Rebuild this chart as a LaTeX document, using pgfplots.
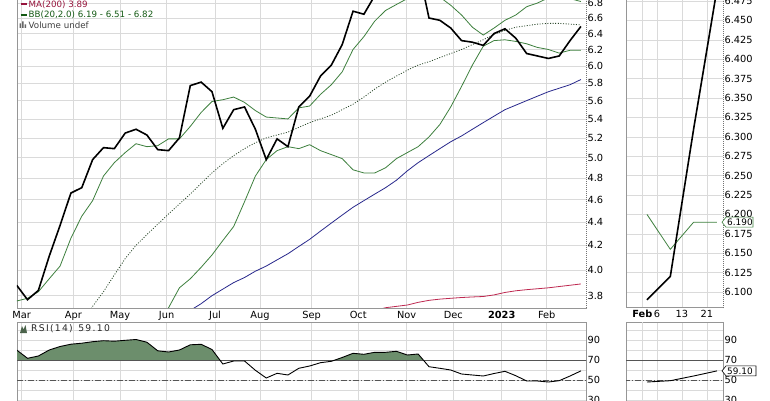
\documentclass[border=0pt]{standalone}
\usepackage{fontspec}
\setmainfont{DejaVu Sans}
\usepackage{pgfplots}
\usepackage{pgfplotstable}
\pgfplotsset{compat=1.18}

\definecolor{bbgreen}{RGB}{62,128,62}
\definecolor{bbtext}{RGB}{20,90,20}
\definecolor{midgreen}{RGB}{40,70,40}
\definecolor{maBlue}{RGB}{40,40,140}
\definecolor{maRed}{RGB}{190,40,80}
\definecolor{maRedText}{RGB}{150,20,60}
\definecolor{rsifill}{RGB}{108,142,108}
\definecolor{gridc}{RGB}{218,218,218}
\definecolor{framec}{RGB}{150,150,150}
\definecolor{refline}{RGB}{85,85,85}

\pgfplotstableread{
w price up mid low maA maB rsi
0 3.88 3.76 nan nan nan nan 80
1 3.77 3.78 nan nan nan nan 71.7
2 3.84 3.83 nan nan nan nan 74
3 4.11 3.93 nan nan nan nan 80
4 4.37 4.03 nan nan nan nan 83.5
5 4.66 4.26 nan nan nan nan 85.8
6 4.71 4.45 3.59 nan nan nan 86.8
7 4.98 4.59 3.72 nan nan nan 88.3
8 5.10 4.82 3.83 nan nan nan 89.3
9 5.09 4.95 3.96 nan nan nan 88.8
10 5.25 5.05 4.09 nan nan nan 89.7
11 5.29 5.14 4.20 nan nan nan 90.5
12 5.23 5.11 4.29 nan nan nan 87.8
13 5.08 5.12 4.38 3.55 nan nan 79.2
14 5.07 5.19 4.47 3.71 nan nan 78
15 5.20 5.19 4.56 3.86 nan nan 80
16 5.77 5.32 4.65 3.93 3.69 nan 85.2
17 5.81 5.47 4.75 4.02 3.74 nan 85.7
18 5.70 5.59 4.85 4.12 3.80 nan 80.5
19 5.30 5.61 4.94 4.24 3.85 nan 66
20 5.50 5.64 5.02 4.36 3.90 nan 69
21 5.53 5.58 5.09 4.58 3.94 nan 69
22 5.29 5.49 5.15 4.82 3.99 nan 59.7
23 4.98 5.42 5.20 4.98 4.03 nan 52
24 5.19 5.41 5.23 5.07 4.08 nan 56.7
25 5.11 5.40 5.26 5.11 4.13 nan 55
26 5.53 5.52 5.31 5.09 4.19 nan 61.7
27 5.65 5.54 5.36 5.13 4.25 nan 64
28 5.88 5.67 5.40 5.07 4.32 nan 67.3
29 6.01 5.78 5.44 5.03 4.39 nan 68.7
30 6.26 5.93 5.50 4.99 4.46 nan 72.5
31 6.69 6.20 5.56 4.88 4.53 nan 76.7
32 6.65 6.36 5.64 4.85 4.59 nan 75.7
33 6.90 6.56 5.73 4.85 4.65 3.69 77.7
34 7.05 6.70 5.81 4.90 4.71 3.71 77.7
35 7.20 6.78 5.88 4.99 4.78 3.72 78.7
36 7.35 6.86 5.95 5.05 4.87 3.73 75
37 7.30 6.93 6.01 5.11 4.95 3.75 76
38 6.60 6.93 6.05 5.21 5.02 3.765 63.3
39 6.57 6.88 6.10 5.34 5.09 3.774 61.7
40 6.47 6.77 6.15 5.53 5.16 3.78 60
41 6.31 6.64 6.20 5.76 5.22 3.786 56
42 6.29 6.48 6.26 6.01 5.29 3.79 55
43 6.25 6.38 6.32 6.24 5.36 3.794 54
44 6.40 6.47 6.39 6.31 5.43 3.806 56.5
45 6.46 6.57 6.44 6.32 5.50 3.824 58.7
46 6.34 6.64 6.48 6.30 5.55 3.837 54.3
47 6.15 6.75 6.50 6.27 5.60 3.846 49
48 6.12 6.80 6.52 6.225 5.65 3.853 49
49 6.09 6.87 6.53 6.20 5.70 3.86 48
50 6.12 6.89 6.53 6.155 5.74 3.87 49.3
51 6.31 6.86 6.52 6.19 5.78 3.88 54
52 6.49 6.82 6.51 6.19 5.84 3.89 59.1
}\data

\pgfplotsset{
  base/.style={
    scale only axis, anchor=south west,
    axis line style={framec, line width=0.6pt},
    grid=major, grid style={gridc, line width=0.6pt},
    minor grid style={gridc, line width=0.6pt},
    major tick length=0pt, minor tick length=0pt,
    tick label style={font=\fontsize{9.8}{11}\selectfont, text=black},
    /pgf/number format/assume math mode=true,
    ytick pos=right, yticklabel pos=right,
    yticklabel style={anchor=west, xshift=-2pt},
    unbounded coords=jump,
  },
}

\newcommand\ks{\kern1.3pt}

\begin{document}
\begin{tikzpicture}
\useasboundingbox (0pt,0pt) rectangle (770pt,400pt);
\fill[white] (0pt,0pt) rectangle (770pt,400pt);

% ---------- main price panel ----------
\begin{axis}[base, at={(17pt,92pt)}, width=569pt, height=310pt,
  xmin=0.03, xmax=52.47, ymode=log, ymin=3.708, ymax=6.868,
  xtick={0.46,5.22,9.52,13.82,18.28,22.42,27.19,31.48,35.94,40.24,44.7,48.85},
  xticklabels={Mar,Apr,May,Jun,Jul,Aug,Sep,Oct,Nov,Dec,\textbf{2023},Feb},
  ytick={3.8,4.0,4.2,4.4,4.6,4.8,5.0,5.2,5.4,5.6,5.8,6.0,6.2,6.4,6.6,6.8},
  yticklabels={3.8,4.0,4.2,4.4,4.6,4.8,5.0,5.2,5.4,5.6,5.8,6.0,6.2,6.4,6.6,6.8}]
  \addplot[maRed, line width=0.8pt] table[x=w,y=maB]{\data};
  \addplot[maBlue, line width=0.8pt] table[x=w,y=maA]{\data};
  \addplot[midgreen, line width=0.8pt, dash pattern=on 1pt off 1.6pt] table[x=w,y=mid]{\data};
  \addplot[bbgreen, line width=0.8pt] table[x=w,y=up]{\data};
  \addplot[bbgreen, line width=0.8pt] table[x=w,y=low]{\data};
  \addplot[black, line width=1.6pt] table[x=w,y=price]{\data};
\end{axis}

% ---------- main RSI panel ----------
\begin{axis}[base, at={(17pt,-10pt)}, width=569pt, height=88pt,
  xmin=0.03, xmax=52.47, ymin=20, ymax=108,
  xtick={0.46,5.22,9.52,13.82,18.28,22.42,27.19,31.48,35.94,40.24,44.7,48.85},
  xticklabels={},
  ytick={30,50,70,90}, minor ytick={40,60,80,100}, grid=both]
  \addplot[fill=rsifill, draw=none] coordinates {
    (0,70) (0,80) (1,71.7) (2,74) (3,80) (4,83.5) (5,85.8) (6,86.8) (7,88.3)
    (8,89.3) (9,88.8) (10,89.7) (11,90.5) (12,87.8) (13,79.2) (14,78) (15,80)
    (16,85.2) (17,85.7) (18,80.5) (18.72,70) (29.34,70) (30,72.5) (31,76.7)
    (32,75.7) (33,77.7) (34,77.7) (35,78.7) (36,75) (37,76) (37.47,70)} -- cycle;
  \addplot[refline, line width=0.8pt] coordinates {(0,70) (53,70)};
  \addplot[refline, line width=0.8pt, dash pattern=on 6pt off 2pt on 1.2pt off 2pt] coordinates {(0,50) (53,50)};
  \addplot[black, line width=0.9pt] table[x=w,y=rsi]{\data};
\end{axis}

% ---------- right zoom price panel ----------
\begin{axis}[base, at={(626pt,93pt)}, width=97pt, height=309pt,
  xmin=48.1, xmax=52.26, ymin=6.0807, ymax=6.4789,
  xtick={49.43,50.5,51.57},
  xticklabels={{\llap{\textbf{Feb}\,}6},13,21},
  extra x ticks={48.79}, extra x tick labels={},
  ytick={6.100,6.125,6.150,6.175,6.200,6.225,6.250,6.275,6.300,6.325,6.350,6.375,6.400,6.425,6.450,6.475},
  yticklabel style={/pgf/number format/fixed, /pgf/number format/fixed zerofill, /pgf/number format/precision=3}]
  \addplot[bbgreen, line width=0.8pt, restrict x to domain=48.9:52.1] table[x=w,y=low]{\data};
  \addplot[black, line width=1.6pt, restrict x to domain=48.9:52.1] table[x=w,y=price]{\data};
  \coordinate (tagG) at (axis cs:52.26,6.19);
\end{axis}

% ---------- right zoom RSI panel ----------
\begin{axis}[base, at={(626pt,-10pt)}, width=97pt, height=88pt,
  xmin=48.1, xmax=52.26, ymin=20, ymax=108,
  xtick={49.43,50.5,51.57}, xticklabels={},
  extra x ticks={48.79}, extra x tick labels={},
  ytick={30,50,70,90}, minor ytick={40,60,80,100}, grid=both]
  \addplot[refline, line width=0.8pt] coordinates {(48,70) (53,70)};
  \addplot[refline, line width=0.8pt, dash pattern=on 6pt off 2pt on 1.2pt off 2pt] coordinates {(48,50) (53,50)};
  \addplot[black, line width=0.9pt, restrict x to domain=48.9:52.1] table[x=w,y=rsi]{\data};
  \coordinate (tagR) at (axis cs:52.26,59.1);
\end{axis}

% ---------- dotted right edges ----------
\foreach \xx in {586pt,723pt}{
  \draw[white, line width=1pt] (\xx,92pt) -- (\xx,400pt);
  \draw[black!55, line width=0.7pt, dash pattern=on 0.8pt off 1.2pt] (\xx,92pt) -- (\xx,400pt);
}

% ---------- value tags ----------
\draw[bbgreen, fill=white, line width=0.6pt] ([xshift=-1pt]tagG) -- ++(4pt,5pt) -- ++(27pt,0pt) -- ++(0pt,-10pt) -- ++(-27pt,0pt) -- cycle;
\node[anchor=west, inner sep=0pt, font=\fontsize{8.9}{10}\selectfont] at ([xshift=4pt]tagG) {6.190};
\draw[black, fill=white, line width=0.6pt] ([xshift=-1pt]tagR) -- ++(4pt,5pt) -- ++(30pt,0pt) -- ++(0pt,-10pt) -- ++(-30pt,0pt) -- cycle;
\node[anchor=west, inner sep=0pt, font=\fontsize{8.9}{10}\selectfont] at ([xshift=4pt]tagR) {59.10};

% ---------- legend texts ----------
\begin{scope}[font=\fontsize{8.7}{10}\selectfont]
\draw[maRedText, line width=1.6pt] (20.5pt,396pt) -- (27pt,396pt);
\node[anchor=west, inner sep=0pt, text=maRedText] at (28.5pt,395.5pt) {MA(200) 3.89};
\draw[bbtext, line width=1.6pt] (20.5pt,385pt) -- (27pt,385pt);
\node[anchor=west, inner sep=0pt, text=bbtext] at (28.5pt,385pt) {BB(20,2.0) 6.19 - 6.51 - 6.82};
\fill[gray!80!black] (19.5pt,372pt) rectangle (21pt,376.5pt) (22pt,372pt) rectangle (23.5pt,378.5pt) (24.5pt,372pt) rectangle (26pt,375.5pt);
\node[anchor=west, inner sep=0pt, text=black!75] at (28.5pt,375pt) {Volume undef};
\fill[rsifill!70!black] (20pt,67pt) -- (22pt,74pt) -- (23.5pt,70.5pt) -- (25.5pt,75pt) -- (27pt,67pt) -- cycle;
\node[anchor=west, inner sep=0pt, text=black!85, font=\fontsize{9.2}{10}\selectfont] at (31pt,71pt) {R\ks S\ks I\ks(\ks 1\ks 4\ks)\ks\ \ks 5\ks 9\ks.\ks 1\ks 0};
\end{scope}
\end{tikzpicture}
\end{document}
